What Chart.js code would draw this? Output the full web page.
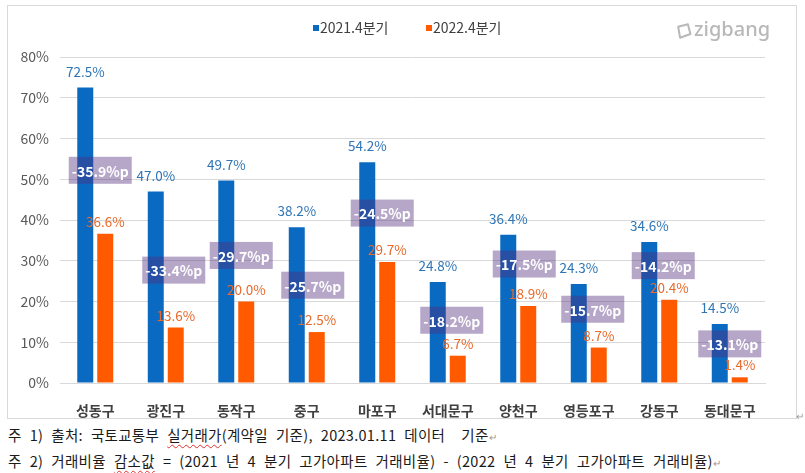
<!DOCTYPE html>
<html>
<head>
<meta charset="utf-8">
<script src="https://cdn.jsdelivr.net/npm/chart.js@4.4.1/dist/chart.umd.min.js"></script>
<style>
  body { margin: 0; background: #fff; width: 805px; height: 473px; overflow: hidden;
         font-family: 'Noto Sans CJK KR', 'Noto Sans', sans-serif; }
  #wrap { position: absolute; left: 0; top: 0; width: 805px; height: 420px; }
  #frame { position: absolute; left: 7px; top: 5px; width: 790px; height: 414px;
           border: 1px solid #d9d9d9; box-sizing: border-box; }
  .note { position: absolute; left: 8px; font-size: 14.5px; color: #1a1a1a; white-space: pre;
          line-height: 18px; letter-spacing: 0.3px; word-spacing: 4.5px; }
  .sq { text-decoration: underline wavy #e03030; text-decoration-thickness: 1px; text-underline-offset: 3px; }
  .pm { color: #9a9a9a; font-size: 10px; letter-spacing: 0; word-spacing: 0; }
</style>
</head>
<body>
<div id="frame"></div>
<div id="wrap"><canvas id="chart" width="805" height="420"></canvas></div>
<div class="note" style="top:426px">주 1) 출처: 국토교통부 <span class="sq">실거래가</span>(계약일 기준), 2023.01.11 데이터  기준<span class="pm">↵</span></div>
<div class="note" style="top:452px">주 2) 거래비율 <span class="sq">감소값</span> = (2021 년 4 분기 고가아파트 거래비율) - (2022 년 4 분기 고가아파트 거래비율)<span class="pm">↵</span></div>
<div class="pm" style="position:absolute;left:796px;top:408px">↵</div>
<script>
// values
const categories = ['성동구', '광진구', '동작구', '중구', '마포구', '서대문구', '양천구', '영등포구', '강동구', '동대문구'];
const q4_2021 = [72.5, 47.0, 49.7, 38.2, 54.2, 24.8, 36.4, 24.3, 34.6, 14.5];
const q4_2022 = [36.6, 13.6, 20.0, 12.5, 29.7, 6.7, 18.9, 8.7, 20.4, 1.4];
const drops = [-35.9, -33.4, -29.7, -25.7, -24.5, -18.2, -17.5, -15.7, -14.2, -13.1];
const seriesNames = ['2021.4분기', '2022.4분기'];
const yTicks = [0, 10, 20, 30, 40, 50, 60, 70, 80];

// where the purple boxes sit (axis value of box centre, pixel shift from category centre)
const boxLevel = [52.2, 27.7, 31.3, 24.0, 41.7, 15.4, 29.2, 18.1, 28.8, 9.6];
const boxShift = [5, 8, 5, 6, 5, 4, 6, 4, 4, 0];

const FONT = "'Noto Sans CJK KR', 'Noto Sans', sans-serif";
const BLUE = '#0a6ac2', ORANGE = '#ff5a00';

const overlay = {
  id: 'overlay',
  afterDatasetsDraw(chart) {
    const { ctx, scales: { x, y } } = chart;
    ctx.save();
    ctx.textAlign = 'center';
    ctx.textBaseline = 'middle';
    // value labels above bars
    [[0, q4_2021, '#2e75b6', 16], [1, q4_2022, '#e8692a', 12]].forEach(([di, vals, col, off]) => {
      ctx.font = '13.5px ' + FONT;
      ctx.fillStyle = col;
      chart.getDatasetMeta(di).data.forEach((bar, i) => {
        ctx.fillText(vals[i].toFixed(1) + '%', bar.x, bar.y - off);
      });
    });
    // drop boxes
    categories.forEach((c, i) => {
      const cx = x.getPixelForValue(i) + boxShift[i];
      const cy = y.getPixelForValue(boxLevel[i]);
      ctx.fillStyle = 'rgba(80,45,125,0.42)';
      ctx.fillRect(cx - 31.5, cy - 13.5, 63, 27);
      ctx.fillStyle = '#fff';
      ctx.font = '600 14px ' + FONT;
      ctx.fillText(drops[i].toFixed(1) + '%p', cx, cy + 1);
    });
    ctx.restore();
  },
  afterDraw(chart) {
    const ctx = chart.ctx;
    ctx.save();
    // legend
    ctx.font = '14px ' + FONT;
    ctx.textBaseline = 'middle';
    ctx.fillStyle = BLUE;
    ctx.fillRect(313, 25, 6, 6);
    ctx.fillStyle = ORANGE;
    ctx.fillRect(426, 25, 6, 6);
    ctx.fillStyle = '#404040';
    ctx.fillText(seriesNames[0], 320, 28);
    ctx.fillText(seriesNames[1], 433, 28);
    // logo
    ctx.strokeStyle = '#b8b8b8';
    ctx.lineWidth = 2;
    ctx.lineJoin = 'round';
    ctx.translate(684, 31);
    ctx.rotate(-0.35);
    ctx.beginPath();
    ctx.moveTo(-4, -6); ctx.lineTo(6, -5); ctx.lineTo(5, 5); ctx.lineTo(-6, 5); ctx.closePath();
    ctx.stroke();
    ctx.setTransform(1, 0, 0, 1, 0, 0);
    ctx.fillStyle = '#b8b8b8';
    ctx.font = "500 20px 'Noto Sans', sans-serif";
    ctx.fillText('zigbang', 694, 30);
    ctx.restore();
  }
};

new Chart(document.getElementById('chart'), {
  type: 'bar',
  data: {
    labels: categories,
    datasets: [
      { label: seriesNames[0], data: q4_2021, backgroundColor: BLUE },
      { label: seriesNames[1], data: q4_2022, backgroundColor: ORANGE }
    ]
  },
  options: {
    responsive: false,
    animation: false,
    categoryPercentage: 0.567,
    barPercentage: 0.8,
    layout: { padding: { top: 57, right: 40, left: 0, bottom: 0 } },
    plugins: { legend: { display: false }, tooltip: { enabled: false } },
    scales: {
      x: {
        grid: { display: false },
        border: { color: '#d9d9d9' },
        ticks: { color: '#404040', font: { family: FONT, size: 14, weight: 'bold' }, padding: 11 },
        afterFit(s) { s.height = 37; }
      },
      y: {
        min: 0,
        max: 80,
        afterBuildTicks(s) { s.ticks = yTicks.map(v => ({ value: v })); },
        grid: { color: '#d9d9d9', drawTicks: false },
        border: { display: false },
        ticks: { color: '#595959', font: { family: FONT, size: 14 }, padding: 11, callback: v => v + '%' },
        afterFit(s) { s.width = 60; }
      }
    }
  },
  plugins: [overlay]
});
</script>
</body>
</html>
